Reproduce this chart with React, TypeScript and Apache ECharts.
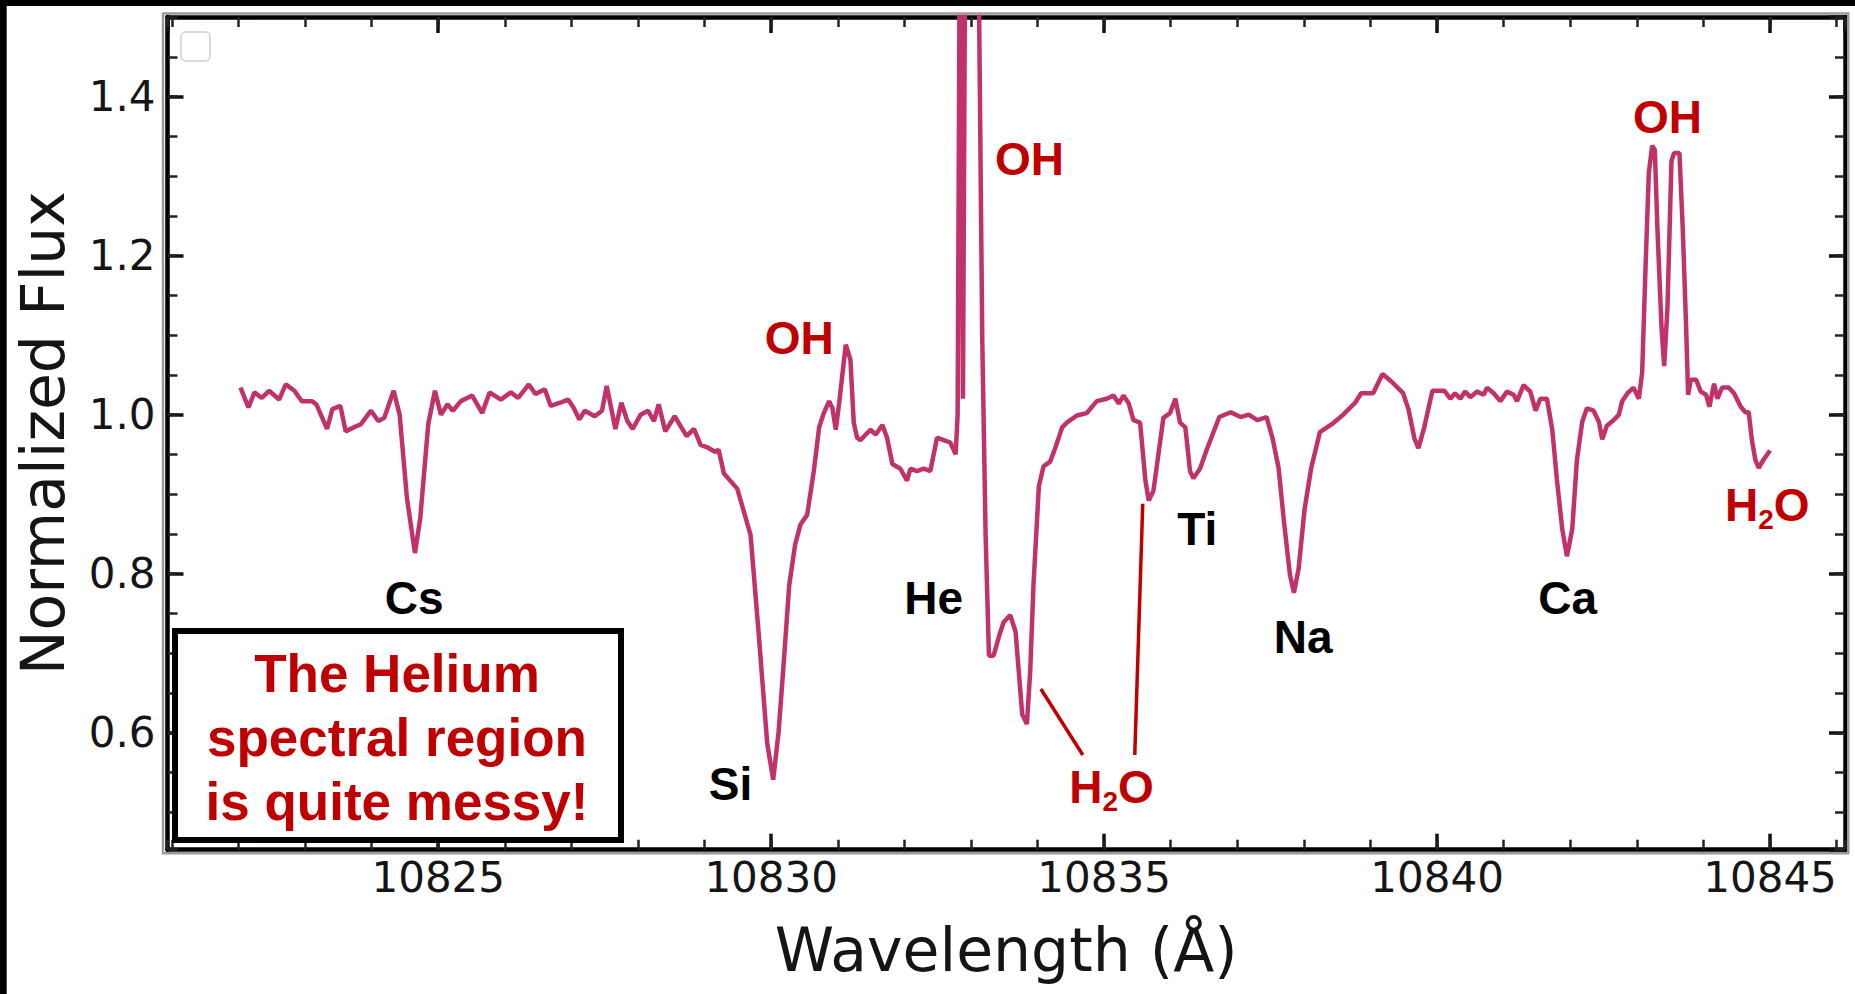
import React, { useEffect, useRef } from 'react';
import * as echarts from 'echarts';

// ---------- data ----------
const wavelength = [
  10822.03, 10822.15, 10822.24, 10822.35, 10822.46, 10822.61, 10822.71, 10822.84, 10822.95, 10823.10,
  10823.17, 10823.33, 10823.41, 10823.53, 10823.61, 10823.73, 10823.84, 10823.99, 10824.10, 10824.19,
  10824.33, 10824.42, 10824.53, 10824.65, 10824.73, 10824.85, 10824.95, 10825.04, 10825.14, 10825.22,
  10825.34, 10825.51, 10825.66, 10825.77, 10825.94, 10826.09, 10826.20, 10826.36, 10826.46, 10826.60,
  10826.69, 10826.83, 10826.95, 10827.03, 10827.12, 10827.20, 10827.35, 10827.46, 10827.53, 10827.66,
  10827.75, 10827.84, 10827.92, 10828.04, 10828.15, 10828.24, 10828.31, 10828.41, 10828.55, 10828.73,
  10828.84, 10828.94, 10829.04, 10829.16, 10829.21, 10829.29, 10829.49, 10829.69, 10829.81, 10829.94,
  10830.03, 10830.11, 10830.19, 10830.27, 10830.36, 10830.44, 10830.54, 10830.64, 10830.72, 10830.79,
  10830.87, 10830.92, 10830.97, 10831.02, 10831.12, 10831.19, 10831.24, 10831.29, 10831.34, 10831.49,
  10831.57, 10831.67, 10831.74, 10831.82, 10831.94, 10832.04, 10832.09, 10832.19, 10832.29, 10832.39,
  10832.49, 10832.59, 10832.69, 10832.77, 10832.80, 10832.84, 10832.88, 10832.93, 10833.02, 10833.10,
  10833.17, 10833.22, 10833.27, 10833.34, 10833.42, 10833.49, 10833.59, 10833.67, 10833.77, 10833.84,
  10833.89, 10833.94, 10834.02, 10834.09, 10834.19, 10834.27, 10834.37, 10834.44, 10834.59, 10834.74,
  10834.89, 10835.04, 10835.14, 10835.22, 10835.29, 10835.37, 10835.44, 10835.54, 10835.62, 10835.67,
  10835.74, 10835.82, 10835.89, 10835.99, 10836.07, 10836.14, 10836.22, 10836.29, 10836.34, 10836.44,
  10836.55, 10836.73, 10836.90, 10837.05, 10837.17, 10837.30, 10837.44, 10837.53, 10837.62, 10837.70,
  10837.79, 10837.85, 10837.92, 10838.01, 10838.11, 10838.24, 10838.42, 10838.59, 10838.77, 10838.86,
  10839.04, 10839.18, 10839.31, 10839.49, 10839.57, 10839.66, 10839.72, 10839.81, 10839.93, 10840.11,
  10840.20, 10840.27, 10840.35, 10840.42, 10840.50, 10840.60, 10840.70, 10840.75, 10840.85, 10840.95,
  10841.05, 10841.15, 10841.20, 10841.30, 10841.40, 10841.48, 10841.55, 10841.65, 10841.73, 10841.80,
  10841.88, 10841.95, 10842.03, 10842.10, 10842.18, 10842.25, 10842.35, 10842.43, 10842.48, 10842.55,
  10842.65, 10842.73, 10842.78, 10842.86, 10842.95, 10843.03, 10843.08, 10843.13, 10843.18, 10843.23,
  10843.27, 10843.31, 10843.37, 10843.41, 10843.46, 10843.52, 10843.56, 10843.64, 10843.69, 10843.74,
  10843.77, 10843.81, 10843.89, 10843.96, 10844.04, 10844.09, 10844.16, 10844.21, 10844.28, 10844.38,
  10844.46, 10844.56, 10844.63, 10844.68, 10844.73, 10844.78, 10844.83, 10844.90, 10845.00,
];

const flux = [
  1.034, 1.009, 1.028, 1.021, 1.030, 1.019, 1.038, 1.030, 1.017, 1.017,
  1.013, 0.982, 1.007, 1.011, 0.979, 0.984, 0.988, 1.005, 0.992, 0.996,
  1.030, 1.000, 0.895, 0.826, 0.870, 0.988, 1.030, 1.000, 1.013, 1.005,
  1.017, 1.024, 1.002, 1.028, 1.019, 1.028, 1.021, 1.038, 1.026, 1.032,
  1.011, 1.015, 1.019, 1.009, 0.994, 1.005, 0.998, 1.005, 1.036, 0.982,
  1.015, 0.992, 0.982, 1.000, 1.005, 0.992, 1.013, 0.979, 0.998, 0.973,
  0.982, 0.962, 0.959, 0.953, 0.956, 0.926, 0.907, 0.849, 0.727, 0.587,
  0.541, 0.600, 0.690, 0.785, 0.837, 0.862, 0.874, 0.929, 0.984, 1.002,
  1.017, 1.008, 0.981, 1.014, 1.088, 1.069, 0.990, 0.971, 0.968, 0.981,
  0.975, 0.987, 0.971, 0.938, 0.932, 0.917, 0.932, 0.929, 0.932, 0.929,
  0.971, 0.968, 0.965, 0.950, 1.000, 1.750, 1.020, 1.900, 2.000, 1.700,
  1.094, 0.849, 0.697, 0.697, 0.721, 0.739, 0.748, 0.727, 0.623, 0.611,
  0.678, 0.788, 0.910, 0.935, 0.941, 0.959, 0.984, 0.990, 0.999, 1.002,
  1.017, 1.020, 1.024, 1.014, 1.024, 1.014, 0.993, 0.990, 0.917, 0.892,
  0.904, 0.953, 0.996, 1.002, 1.020, 0.990, 0.984, 0.929, 0.920, 0.932,
  0.958, 0.997, 1.003, 0.997, 1.000, 0.993, 0.997, 0.970, 0.933, 0.866,
  0.799, 0.776, 0.806, 0.881, 0.933, 0.978, 0.988, 1.000, 1.015, 1.027,
  1.027, 1.051, 1.042, 1.027, 1.007, 0.970, 0.958, 0.985, 1.030, 1.030,
  1.020, 1.027, 1.020, 1.029, 1.022, 1.029, 1.025, 1.034, 1.027, 1.017,
  1.029, 1.025, 1.017, 1.037, 1.029, 1.005, 1.020, 1.020, 0.981, 0.918,
  0.856, 0.822, 0.856, 0.943, 0.991, 1.008, 1.005, 0.991, 0.969, 0.986,
  0.993, 1.000, 1.017, 1.027, 1.034, 1.020, 1.053, 1.184, 1.304, 1.338,
  1.333, 1.232, 1.111, 1.061, 1.135, 1.319, 1.329, 1.329, 1.232, 1.111,
  1.025, 1.044, 1.044, 1.029, 1.025, 1.010, 1.039, 1.020, 1.034, 1.034,
  1.027, 1.010, 1.003, 1.003, 0.967, 0.943, 0.933, 0.943, 0.955,
];

// line identifications
const labelNames = ['Cs', 'Si', 'OH', 'He', 'OH', 'H2O', 'Ti', 'Na', 'Ca', 'OH', 'H2O'];
const labelX = [10824.64, 10829.39, 10830.42, 10832.44, 10833.88, 10835.11, 10836.40, 10837.99, 10841.96, 10843.46, 10844.96];
const labelY = [0.770, 0.536, 1.097, 0.770, 1.321, 0.532, 0.856, 0.721, 0.770, 1.374, 0.887];
const labelIsTelluric = [false, false, true, false, true, true, false, false, false, true, true];

// leader lines for the central H2O label
const leader1 = [[10834.05, 0.655], [10834.68, 0.572]];
const leader2 = [[10835.58, 0.888], [10835.46, 0.572]];

const boxLines = ['The Helium', 'spectral region', 'is quite messy!'];

const X_MIN = 10820.934;
const X_MAX = 10846.126;
const Y_MIN = 0.453;
const Y_MAX = 1.5;

const RED = '#c00000';
const LINE_COLOR = '#c2326a';
const AXIS_FONT = 'DejaVu Sans';
const LABEL_FONT = 'Liberation Sans';

function xAxisDef(position: string, major: boolean, withLabels: boolean) {
  return {
    type: 'value',
    position,
    min: X_MIN,
    max: X_MAX,
    splitNumber: major ? 5 : 25,
    axisLine: { show: major, onZero: false, lineStyle: { color: '#000', width: 4.5 } },
    axisTick: {
      show: true,
      inside: true,
      length: major ? 16 : 10,
      lineStyle: { color: major ? '#111' : '#222', width: major ? 3.5 : 2.5 },
    },
    axisLabel: {
      show: withLabels,
      fontSize: 42,
      fontFamily: AXIS_FONT,
      color: '#151515',
      margin: 7,
      showMinLabel: false,
      showMaxLabel: false,
      formatter: (v: number) => String(Math.round(v)),
    },
    splitLine: { show: false },
    ...(withLabels
      ? {
          name: 'Wavelength (Å)',
          nameLocation: 'middle',
          nameGap: 70,
          nameTextStyle: { fontSize: 60, fontFamily: AXIS_FONT, color: '#151515' },
        }
      : {}),
  };
}

function yAxisDef(position: string, major: boolean, withLabels: boolean) {
  return {
    type: 'value',
    position,
    min: Y_MIN,
    max: Y_MAX,
    splitNumber: major ? 5 : 21,
    axisLine: { show: major, onZero: false, lineStyle: { color: '#000', width: 4.5 } },
    axisTick: {
      show: true,
      inside: true,
      length: major ? 16 : 10,
      lineStyle: { color: major ? '#111' : '#222', width: major ? 3.5 : 2.5 },
    },
    axisLabel: {
      show: withLabels,
      fontSize: 42,
      fontFamily: AXIS_FONT,
      color: '#151515',
      margin: 12,
      showMinLabel: false,
      showMaxLabel: false,
      formatter: (v: number) => v.toFixed(1),
    },
    splitLine: { show: false },
    ...(withLabels
      ? {
          name: 'Normalized Flux',
          nameLocation: 'middle',
          nameGap: 95,
          nameTextStyle: { fontSize: 60, fontFamily: AXIS_FONT, color: '#151515' },
        }
      : {}),
  };
}

export default function App() {
  const ref = useRef<HTMLDivElement>(null);

  useEffect(() => {
    if (!ref.current) return;
    const chart = echarts.init(ref.current, null, { renderer: 'svg' });

    const spectrum = wavelength.map((w, i) => [w, flux[i]]);
    const labelData = labelNames.map((n, i) => ({
      name: n,
      value: [labelX[i], labelY[i]],
      label: { color: labelIsTelluric[i] ? RED : '#000' },
    }));

    chart.setOption({
      animation: false,
      backgroundColor: '#fff',
      grid: {
        left: 167.5,
        top: 17,
        width: 1677.5,
        height: 832.7,
        containLabel: false,
        outerBoundsMode: 'none',
      },
      xAxis: [
        xAxisDef('bottom', true, true),
        xAxisDef('bottom', false, false),
        xAxisDef('top', true, false),
        xAxisDef('top', false, false),
      ],
      yAxis: [
        yAxisDef('left', true, true),
        yAxisDef('left', false, false),
        yAxisDef('right', true, false),
        yAxisDef('right', false, false),
      ],
      series: [
        {
          type: 'line',
          data: spectrum,
          xAxisIndex: 0,
          yAxisIndex: 0,
          showSymbol: false,
          symbol: 'none',
          smooth: false,
          clip: true,
          silent: true,
          lineStyle: { color: LINE_COLOR, width: 4.5, opacity: 1 },
          z: 3,
        },
        {
          type: 'line',
          data: leader1,
          symbol: 'none',
          silent: true,
          lineStyle: { color: RED, width: 3.5, opacity: 1 },
          z: 4,
        },
        {
          type: 'line',
          data: leader2,
          symbol: 'none',
          silent: true,
          lineStyle: { color: RED, width: 3.5, opacity: 1 },
          z: 4,
        },
        {
          type: 'scatter',
          data: labelData,
          symbolSize: 1,
          silent: true,
          itemStyle: { color: 'rgba(0,0,0,0)', opacity: 1 },
          z: 5,
          label: {
            show: true,
            position: 'inside',
            opacity: 1,
            fontFamily: LABEL_FONT,
            fontWeight: 'bold',
            fontSize: 46,
            lineHeight: 52,
            textBorderWidth: 0,
            textBorderColor: 'transparent',
            formatter: (p: any) => (p.name === 'H2O' ? 'H{sub|2}O' : p.name),
            rich: {
              sub: {
                fontFamily: LABEL_FONT,
                fontWeight: 'bold',
                fontSize: 28,
                lineHeight: 28,
                color: RED,
                padding: [30, 0, 0, 0],
              },
            },
          },
        },
      ],
      graphic: [
        { type: 'rect', shape: { x: 0, y: 0, width: 1855, height: 6 }, style: { fill: '#000' }, z: 100 },
        { type: 'rect', shape: { x: 0, y: 0, width: 6.7, height: 994 }, style: { fill: '#000' }, z: 100 },
        {
          type: 'rect',
          shape: { x: 163, y: 13.5, width: 1685.3, height: 839.8 },
          style: { fill: 'none', stroke: '#9a9a9a', lineWidth: 2.5 },
          z: 1,
        },
        {
          type: 'rect',
          shape: { x: 181, y: 32, width: 29, height: 29, r: 5 },
          style: { fill: '#fff', stroke: '#dadada', lineWidth: 2 },
          z: 50,
        },
        {
          type: 'rect',
          shape: { x: 175, y: 631, width: 446, height: 209 },
          style: { fill: '#fff', stroke: '#000', lineWidth: 6 },
          z: 100,
        },
        {
          type: 'text',
          x: 397,
          y: 737,
          z: 101,
          style: {
            text: boxLines.join('\n'),
            fill: RED,
            fontFamily: LABEL_FONT,
            fontWeight: 'bold',
            fontSize: 53,
            lineHeight: 64,
            align: 'center',
            verticalAlign: 'middle',
          },
        },
      ],
    });

    return () => chart.dispose();
  }, []);

  return (
    <div
      ref={ref}
      style={{ position: 'absolute', left: 0, top: 0, width: 1855, height: 994, background: '#fff' }}
    />
  );
}
